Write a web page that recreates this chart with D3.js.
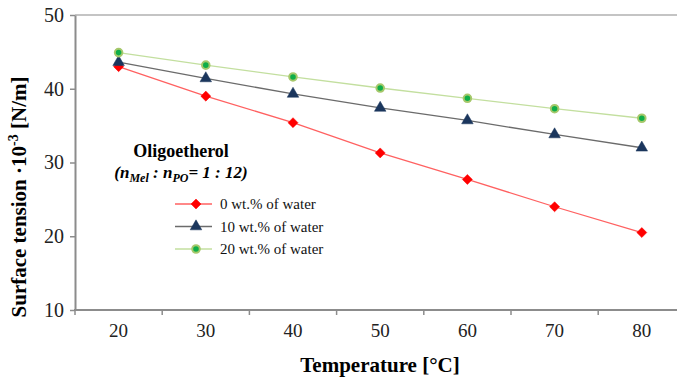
<!DOCTYPE html>
<html>
<head>
<meta charset="utf-8">
<script src="https://cdn.jsdelivr.net/npm/d3@7"></script>
<style>
  body { margin: 0; background: #fff; }
  svg text { font-family: "Liberation Serif", "Times New Roman", serif; }
</style>
</head>
<body>
<div id="vis-holder"></div>
<script>
// chart values
const temps = [20, 30, 40, 50, 60, 70, 80];
const water0 = [43.0, 39.0, 35.4, 31.3, 27.7, 24.0, 20.5];
const water10 = [43.6, 41.4, 39.3, 37.4, 35.7, 33.8, 32.0];
const water20 = [44.9, 43.2, 41.6, 40.1, 38.7, 37.3, 36.0];
const yTicks = [10, 20, 30, 40, 50];
const seriesNames = ["0 wt.% of water", "10 wt.% of water", "20 wt.% of water"];

const width = 677, height = 379;
const margin = { top: 15, left: 75, bottom: 310 };

const svg = d3.select("#vis-holder")
  .append("svg")
  .attr("width", width)
  .attr("height", height);

// category axis continues past the right edge like the original crop
let x = d3.scaleBand()
  .domain(temps)
  .range([margin.left, margin.left + 87.2 * temps.length]);

let y = d3.scaleLinear()
  .domain([10, 50])
  .range([margin.bottom, margin.top]);

// top border of plot area
svg.append("line")
  .attr("x1", margin.left).attr("x2", width)
  .attr("y1", y(50)).attr("y2", y(50))
  .attr("stroke", "#b0b0b0").attr("stroke-width", 1.5);

// y axis
svg.append("g")
  .attr("transform", `translate(${margin.left}, 0)`)
  .call(d3.axisLeft(y).tickValues(yTicks).tickSize(5).tickPadding(6).tickSizeOuter(0))
  .call(g => g.select(".domain").attr("stroke", "#8c8c8c").attr("stroke-width", 2))
  .call(g => g.selectAll(".tick line").attr("stroke", "#8c8c8c").attr("stroke-width", 1.5))
  .call(g => g.selectAll(".tick text")
    .attr("font-size", "20px")
    .attr("fill", "#222")
    .style("font-family", "Liberation Serif"));

// x axis: labels centred in bands, ticks on band edges
svg.append("g")
  .attr("transform", `translate(0, ${margin.bottom})`)
  .call(d3.axisBottom(x).tickSize(0).tickPadding(14))
  .call(g => g.select(".domain").remove())
  .call(g => g.selectAll(".tick text")
    .attr("font-size", "19px")
    .attr("fill", "#222")
    .style("font-family", "Liberation Serif"));

svg.append("line")
  .attr("x1", margin.left - 1).attr("x2", width)
  .attr("y1", margin.bottom).attr("y2", margin.bottom)
  .attr("stroke", "#8c8c8c").attr("stroke-width", 2);

svg.selectAll(".xtick")
  .data(temps)
  .enter()
  .append("line")
  .attr("class", "xtick")
  .attr("x1", d => x(d)).attr("x2", d => x(d))
  .attr("y1", margin.bottom).attr("y2", margin.bottom + 5)
  .attr("stroke", "#8c8c8c").attr("stroke-width", 1.5);

// axis titles
svg.append("text")
  .attr("transform", `translate(26, 197) rotate(-90)`)
  .attr("text-anchor", "middle")
  .attr("font-size", "21px")
  .attr("font-weight", "bold")
  .text("Surface tension ·10")
  .append("tspan").attr("dy", -8).attr("font-size", "14px").text("-3")
  .select(function() { return this.parentNode; })
  .append("tspan").attr("dy", 8).text(" [N/m]");

svg.append("text")
  .attr("x", 380).attr("y", 372)
  .attr("text-anchor", "middle")
  .attr("font-size", "21px")
  .attr("font-weight", "bold")
  .text("Temperature [°C]");

const cx = d => x(d) + x.bandwidth() / 2;

const series = [
  { name: seriesNames[0], values: water0, line: "#ff6161", marker: "diamond", fill: "#ff0000", stroke: "#ff0000" },
  { name: seriesNames[1], values: water10, line: "#6b6b6b", marker: "triangle", fill: "#1b365d", stroke: "#1b365d" },
  { name: seriesNames[2], values: water20, line: "#c3df9f", marker: "circle", fill: "#0fae48", stroke: "#a6c86b" }
];

const symbolOf = {
  diamond: d3.symbol().type(d3.symbolDiamond2).size(64),
  triangle: d3.symbol().type(d3.symbolTriangle).size(58),
  circle: d3.symbol().type(d3.symbolCircle).size(45)
};

series.forEach(s => {
  const line = d3.line()
    .x((d, i) => cx(temps[i]))
    .y(d => y(d));

  svg.append("path")
    .datum(s.values)
    .attr("fill", "none")
    .attr("stroke", s.line)
    .attr("stroke-width", 1.3)
    .attr("d", line);

  svg.selectAll(".m-" + s.marker)
    .data(s.values)
    .enter()
    .append("path")
    .attr("class", "m-" + s.marker)
    .attr("transform", (d, i) => `translate(${cx(temps[i])}, ${y(d)})`)
    .attr("d", symbolOf[s.marker])
    .attr("fill", s.fill)
    .attr("stroke", s.stroke)
    .attr("stroke-width", s.marker == "circle" ? 2 : 0.5);
});

// legend title
svg.append("text")
  .attr("x", 181).attr("y", 157)
  .attr("text-anchor", "middle")
  .attr("font-size", "18px")
  .attr("font-weight", "bold")
  .text("Oligoetherol");

const sub = svg.append("text")
  .attr("x", 181).attr("y", 178)
  .attr("text-anchor", "middle")
  .attr("font-size", "17px")
  .attr("font-weight", "bold")
  .attr("font-style", "italic");
sub.append("tspan").text("(n");
sub.append("tspan").attr("font-size", "12px").attr("dy", 4).text("Mel");
sub.append("tspan").attr("dy", -4).text(" : n");
sub.append("tspan").attr("font-size", "12px").attr("dy", 4).text("PO");
sub.append("tspan").attr("dy", -4).text("= 1 : 12)");

// legend entries
const legend = svg.selectAll(".legend")
  .data(series)
  .enter()
  .append("g")
  .attr("class", "legend")
  .attr("transform", (d, i) => `translate(0, ${204 + i * 22.5})`);

legend.append("line")
  .attr("x1", 175).attr("x2", 212)
  .attr("stroke", d => d.line)
  .attr("stroke-width", 1.3);

legend.append("path")
  .attr("transform", "translate(196, 0)")
  .attr("d", d => symbolOf[d.marker]())
  .attr("fill", d => d.fill)
  .attr("stroke", d => d.stroke)
  .attr("stroke-width", d => d.marker == "circle" ? 2 : 0.5);

legend.append("text")
  .attr("x", 220).attr("y", 5)
  .attr("font-size", "15px")
  .attr("fill", "#111")
  .text(d => d.name);
</script>
</body>
</html>
